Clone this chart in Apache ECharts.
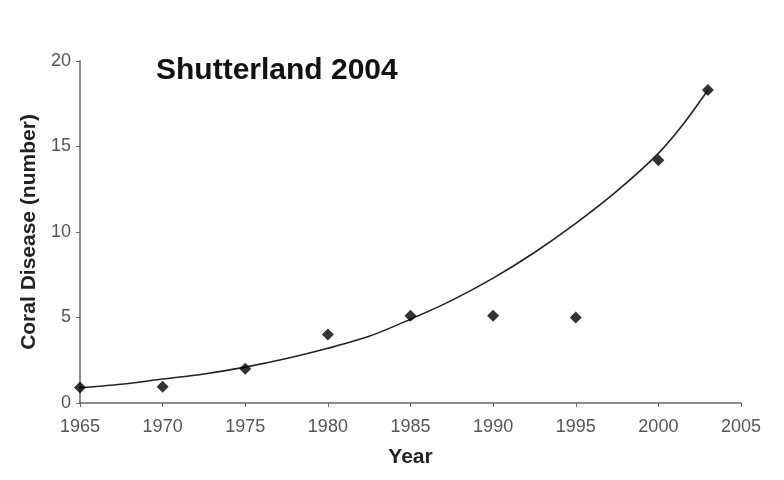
<!DOCTYPE html>
<html>
<head>
<meta charset="utf-8">
<script src="https://cdn.jsdelivr.net/npm/echarts@6/dist/echarts.min.js"></script>
<style>
  html, body { margin: 0; padding: 0; background: #fff; }
  #main { width: 784px; height: 480px; }
</style>
</head>
<body>
<div id="main"></div>
<script>
// observed counts (diamonds)
var years = [1965, 1970, 1975, 1980, 1985, 1990, 1995, 2000, 2003]
var disease = [0.9, 0.95, 2.0, 4.0, 5.1, 5.1, 5.0, 14.2, 18.3]
// fitted trend curve
var fitYears = [1965, 1967.5, 1970, 1972.5, 1975, 1977.5, 1980, 1982.5, 1985, 1987.5, 1990, 1992.5, 1995, 1997.5, 2000, 2001.5, 2003]
var fitValues = [0.9, 1.1, 1.4, 1.7, 2.1, 2.6, 3.2, 3.9, 4.9, 6.0, 7.3, 8.8, 10.5, 12.4, 14.6, 16.3, 18.3]

var font = '"Liberation Sans", Arial, sans-serif'

var chart = echarts.init(document.getElementById('main'))

chart.setOption({
  animation: false,
  title: {
    text: 'Shutterland 2004',
    left: 151,
    top: 51,
    textStyle: { fontFamily: font, fontSize: 30, fontWeight: 'bold', color: '#111' }
  },
  grid: { left: 80, right: 43, top: 61, bottom: 77 },
  xAxis: {
    type: 'value',
    min: 1965,
    max: 2005,
    interval: 5,
    name: 'Year',
    nameLocation: 'middle',
    nameGap: 44,
    nameTextStyle: { fontFamily: font, fontSize: 21, fontWeight: 'bold', color: '#222' },
    axisLine: { show: true, lineStyle: { color: '#666', width: 1.5 } },
    axisTick: { show: true, length: 4, lineStyle: { color: '#666' } },
    axisLabel: {
      fontFamily: font, fontSize: 18, color: '#555', margin: 15,
      formatter: function (v) { return String(v) }
    },
    splitLine: { show: false }
  },
  yAxis: {
    type: 'value',
    min: 0,
    max: 20,
    interval: 5,
    name: 'Coral Disease (number)',
    nameLocation: 'middle',
    nameGap: 40,
    nameTextStyle: { fontFamily: font, fontSize: 21, fontWeight: 'bold', color: '#222' },
    axisLine: { show: true, lineStyle: { color: '#666', width: 1.5 } },
    axisTick: { show: true, length: 4, lineStyle: { color: '#666' } },
    axisLabel: { fontFamily: font, fontSize: 18, color: '#555', margin: 9 },
    splitLine: { show: false }
  },
  series: [
    {
      name: 'fit',
      type: 'line',
      smooth: 0.3,
      showSymbol: false,
      data: fitYears.map(function (y, i) { return [y, fitValues[i]] }),
      lineStyle: { color: '#222', width: 1.6 },
      z: 2
    },
    {
      name: 'Coral Disease',
      type: 'scatter',
      symbol: 'diamond',
      symbolSize: 12,
      data: years.map(function (y, i) { return [y, disease[i]] }),
      itemStyle: { color: '#000' },
      z: 3
    }
  ]
})
</script>
</body>
</html>
